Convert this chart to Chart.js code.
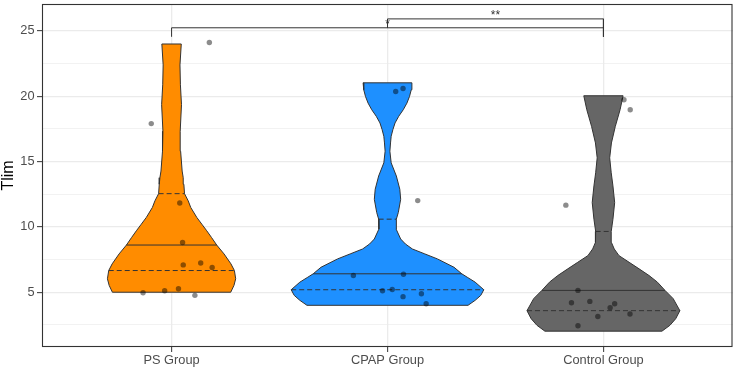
<!DOCTYPE html>
<html>
<head>
<meta charset="utf-8">
<script src="https://cdn.jsdelivr.net/npm/chart.js@4.4.1/dist/chart.umd.min.js"></script>
<style>
html,body{margin:0;padding:0;background:#fff;}
#wrap{width:737px;height:368px;}
</style>
</head>
<body>
<div id="wrap"><canvas id="violinChart" width="737" height="368"></canvas></div>
<script>
const groups=["PS Group","CPAP Group","Control Group"];

// violin outlines: Tlim level and half width (category units), top to bottom
const psDensY=[23.99,22.39,20.87,19.35,17.31,15.79,14.27,13.76,13.26,12.54,11.99,11.48,10.72,10.21,9.70,9.19,8.61,7.93,7.17,6.66,6.03,5.52,5.00];
const psDensW=[0.045,0.039,0.041,0.046,0.040,0.042,0.049,0.054,0.057,0.060,0.077,0.089,0.117,0.140,0.163,0.185,0.209,0.243,0.275,0.291,0.297,0.289,0.274];
const cpDensY=[21.02,20.49,19.98,19.47,18.96,18.46,17.95,17.44,16.93,16.42,15.79,14.90,13.89,12.88,12.11,11.10,10.59,9.83,9.07,8.69,8.31,7.93,7.55,6.91,6.41,6.15,5.77,5.19,4.76,4.38,4.00];
const cpDensW=[0.113,0.110,0.102,0.090,0.073,0.052,0.035,0.025,0.017,0.014,0.011,0.017,0.041,0.057,0.061,0.050,0.041,0.040,0.061,0.083,0.115,0.173,0.231,0.308,0.344,0.369,0.406,0.446,0.432,0.406,0.373];
const ctDensY=[20.03,18.96,17.69,16.42,15.28,14.14,13.13,11.86,10.59,9.65,8.81,8.31,7.80,7.29,6.79,6.28,5.77,5.14,4.51,3.59,2.98,2.47,2.02];
const ctDensW=[0.091,0.077,0.055,0.037,0.029,0.036,0.044,0.052,0.044,0.036,0.037,0.050,0.072,0.119,0.165,0.211,0.250,0.285,0.323,0.354,0.335,0.308,0.271];

// quartiles (25%, 50%, 75%)
const psQuant=[6.66,8.61,12.54];
const cpQuant=[5.19,6.41,10.59];
const ctQuant=[3.59,5.14,9.65];

// observations and their horizontal jitter
const psTlim=[24.11,17.9,11.83,8.81,7.09,7.24,6.89,4.96,5.11,5.27,4.76];
const psJitter=[0.175,-0.094,0.038,0.051,0.054,0.135,0.188,-0.132,-0.032,0.032,0.108];
const cpTlim=[20.36,20.59,12.01,6.28,6.38,5.11,5.21,4.66,4.88,4.12];
const cpJitter=[0.038,0.072,0.140,-0.158,0.074,-0.023,0.022,0.072,0.157,0.179];
const ctTlim=[19.72,18.96,11.66,5.14,4.20,4.30,4.12,3.82,3.14,3.34,2.43];
const ctJitter=[0.095,0.124,-0.174,-0.118,-0.148,-0.063,0.052,0.031,-0.026,0.123,-0.118];

// significance brackets
const compPairs=[[1,3],[2,3]];
const compHeights=[25.23,25.91];
const compLabels=["*","**"];
const tipLen=0.69;

const yTicks=[2.5,5,7.5,10,12.5,15,17.5,20,22.5,25];

const fills=["#FF8C00","#1E90FF","#666666"];
const outline="#333333";
Chart.defaults.font.family="'Liberation Sans', Arial, sans-serif";

const dens=[[psDensY,psDensW],[cpDensY,cpDensW],[ctDensY,ctDensW]];
const quants=[psQuant,cpQuant,ctQuant];
const obs=[[psTlim,psJitter],[cpTlim,cpJitter],[ctTlim,ctJitter]];

function violinShape(pos,ys,ws){
    const left=ys.map((y,i)=>({x:pos-ws[i],y:y}));
    const right=ys.map((y,i)=>({x:pos+ws[i],y:y})).reverse();
    const pts=left.concat(right);
    pts.push(pts[0]);
    return pts;
}
function widthAt(ys,ws,q){
    for(let i=0;i<ys.length-1;i++){
        if(q<=ys[i]&&q>=ys[i+1]){const t=(ys[i]-q)/(ys[i]-ys[i+1]);return ws[i]+t*(ws[i+1]-ws[i]);}
    }
    return 0;
}

const datasets=[];
dens.forEach((d,g)=>{
    datasets.push({data:violinShape(g+1,d[0],d[1]),showLine:true,fill:'shape',backgroundColor:fills[g],
        borderColor:outline,borderWidth:1,borderJoinStyle:'round',pointRadius:0,pointHitRadius:0,order:3});
    quants[g].forEach((q,k)=>{
        const w=widthAt(d[0],d[1],q);
        datasets.push({data:[{x:g+1-w,y:q},{x:g+1+w,y:q}],showLine:true,borderColor:outline,borderWidth:1,
            borderDash:k===1?[]:[5,3],pointRadius:0,pointHitRadius:0,order:2});
    });
    datasets.push({data:obs[g][0].map((v,i)=>({x:g+1+obs[g][1][i],y:v})),pointRadius:2.7,
        backgroundColor:'rgba(0,0,0,0.45)',borderWidth:0,order:1});
});
compPairs.forEach((p,i)=>{
    const h=compHeights[i];
    datasets.push({data:[{x:p[0],y:h-tipLen},{x:p[0],y:h},{x:p[1],y:h},{x:p[1],y:h-tipLen}],showLine:true,
        borderColor:outline,borderWidth:1,pointRadius:0,pointHitRadius:0,order:2});
});

const panelBorder={id:'panelBorder',afterDraw(chart){
    const {ctx,chartArea:a}=chart;
    ctx.save();ctx.strokeStyle=outline;ctx.lineWidth=1.1;
    ctx.strokeRect(a.left+0.5,a.top+0.5,a.width-1.5,a.height-1);
    ctx.restore();
}};
const sigLabels={id:'sigLabels',afterDatasetsDraw(chart){
    const x=chart.scales.x,y=chart.scales.y,ctx=chart.ctx;
    ctx.save();ctx.fillStyle=outline;ctx.font="12px 'Liberation Sans', Arial, sans-serif";
    ctx.textAlign='center';ctx.textBaseline='alphabetic';
    compPairs.forEach((p,i)=>{ctx.fillText(compLabels[i],x.getPixelForValue((p[0]+p[1])/2),y.getPixelForValue(compHeights[i])+0.5);});
    ctx.restore();
}};

new Chart(document.getElementById('violinChart'),{
    type:'scatter',
    data:{datasets:datasets},
    options:{
        responsive:false,animation:false,events:[],
        layout:{padding:{left:0,top:2,right:2,bottom:0}},
        plugins:{legend:{display:false},tooltip:{enabled:false}},
        scales:{
            x:{type:'linear',min:0.4,max:3.6,
                afterBuildTicks:s=>{s.ticks=[1,2,3].map(v=>({value:v}));},
                afterFit:s=>{s.height=21;s.paddingLeft=0;s.paddingRight=0;},
                ticks:{callback:v=>groups[Math.round(v)-1],color:'#4D4D4D',font:{size:12.8},padding:1,maxRotation:0,autoSkip:false},
                grid:{color:'#EBEBEB',lineWidth:1.3,tickColor:outline,tickLength:5,tickWidth:1},
                border:{display:false}},
            y:{type:'linear',min:0.81,max:27.05,
                afterBuildTicks:s=>{s.ticks=yTicks.map(v=>({value:v}));},
                afterFit:s=>{s.width=42;s.paddingTop=0;s.paddingBottom=0;},
                ticks:{callback:v=>v%5===0?String(v):'',color:'#4D4D4D',font:{size:12.8},padding:2.5,autoSkip:false},
                grid:{color:'#EBEBEB',lineWidth:c=>c.tick&&c.tick.value%5===0?1.3:0.65,
                    tickColor:c=>c.tick&&c.tick.value%5===0?outline:'rgba(0,0,0,0)',tickLength:5,tickWidth:1},
                border:{display:false},
                title:{display:true,text:'Tlim',color:'#000',font:{size:16,lineHeight:1.05},padding:{top:0,bottom:0}}}
        }
    },
    plugins:[panelBorder,sigLabels]
});
</script>
</body>
</html>
